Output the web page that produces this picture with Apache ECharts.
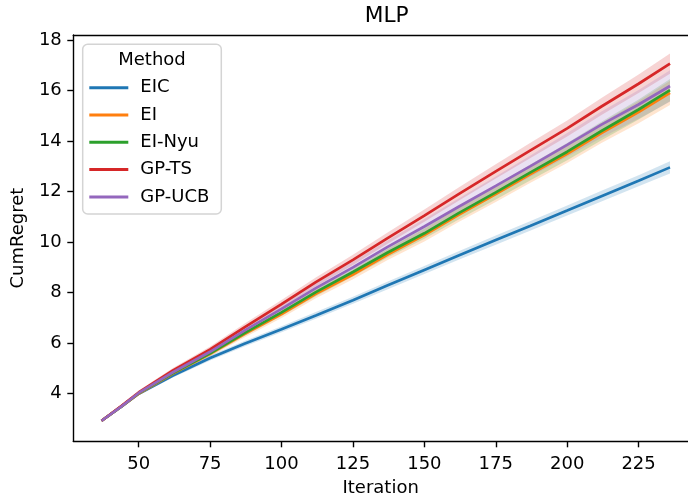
<!DOCTYPE html>
<html>
<head>
<meta charset="utf-8">
<script src="https://cdn.jsdelivr.net/npm/echarts@6/dist/echarts.min.js"></script>
<style>html,body{margin:0;padding:0;background:#fff}#c{width:688px;height:496px}</style>
</head>
<body>
<div id="c"></div>
<script>
var iterations = [37, 44, 50, 62, 75, 87, 100, 112, 125, 137, 150, 162, 175, 187, 200, 212, 225, 236];
var methods = ['EIC', 'EI', 'EI-Nyu', 'GP-TS', 'GP-UCB'];
var colors = ['#1f77b4', '#ff7f0e', '#2ca02c', '#d62728', '#9467bd'];
var meanEIC   = [2.93, 3.5, 4.0, 4.72, 5.41, 5.98, 6.55, 7.1, 7.7, 8.28, 8.9, 9.47, 10.08, 10.64, 11.25, 11.82, 12.43, 12.96];
var meanEI    = [2.93, 3.5, 4.0, 4.8, 5.58, 6.36, 7.15, 7.95, 8.72, 9.5, 10.28, 11.08, 11.9, 12.68, 13.5, 14.32, 15.15, 15.91];
var meanEINyu = [2.93, 3.5, 4.02, 4.82, 5.6, 6.4, 7.22, 8.02, 8.82, 9.58, 10.35, 11.15, 11.97, 12.75, 13.58, 14.4, 15.25, 16.02];
var meanGPTS  = [2.93, 3.52, 4.05, 4.92, 5.75, 6.63, 7.55, 8.42, 9.3, 10.15, 11.05, 11.9, 12.8, 13.62, 14.5, 15.37, 16.27, 17.07];
var meanGPUCB = [2.93, 3.5, 4.03, 4.85, 5.66, 6.5, 7.36, 8.18, 9.0, 9.8, 10.62, 11.4, 12.23, 13.0, 13.85, 14.65, 15.45, 16.18];
var halfEIC   = [0.04, 0.05, 0.06, 0.08, 0.1, 0.11, 0.12, 0.13, 0.14, 0.15, 0.16, 0.17, 0.18, 0.19, 0.2, 0.21, 0.22, 0.24];
var halfEI    = [0.04, 0.05, 0.07, 0.09, 0.11, 0.13, 0.15, 0.17, 0.19, 0.22, 0.25, 0.28, 0.31, 0.34, 0.37, 0.4, 0.44, 0.48];
var halfEINyu = [0.04, 0.05, 0.07, 0.08, 0.1, 0.12, 0.14, 0.16, 0.18, 0.2, 0.22, 0.25, 0.28, 0.31, 0.34, 0.37, 0.4, 0.44];
var halfGPTS  = [0.05, 0.07, 0.08, 0.1, 0.12, 0.14, 0.16, 0.18, 0.2, 0.22, 0.24, 0.26, 0.28, 0.3, 0.32, 0.34, 0.37, 0.4];
var halfGPUCB = [0.05, 0.06, 0.08, 0.1, 0.12, 0.15, 0.18, 0.2, 0.23, 0.26, 0.3, 0.33, 0.37, 0.42, 0.47, 0.52, 0.57, 0.62];
var xTicks = [50, 75, 100, 125, 150, 175, 200, 225];
var yTicks = [4, 6, 8, 10, 12, 14, 16, 18];

var means = [meanEIC, meanEI, meanEINyu, meanGPTS, meanGPUCB];
var halves = [halfEIC, halfEI, halfEINyu, halfGPTS, halfGPUCB];
var FONT = 'DejaVu Sans';

function bandSeries(k) {
  var mean = means[k], hw = halves[k];
  var data = iterations.map(function (x, i) { return [x, mean[i] - hw[i], mean[i] + hw[i]]; });
  return {
    type: 'custom', silent: true, clip: true,
    encode: { x: 0, y: [1, 2] },
    data: data,
    renderItem: function (params, api) {
      if (params.dataIndex !== 0) return null;
      var pts = [];
      for (var i = 0; i < data.length; i++) pts.push(api.coord([data[i][0], data[i][2]]));
      for (var j = data.length - 1; j >= 0; j--) pts.push(api.coord([data[j][0], data[j][1]]));
      return { type: 'polygon', shape: { points: pts }, style: { fill: colors[k], opacity: 0.2 } };
    }
  };
}

var series = [];
methods.forEach(function (m, k) {
  series.push(bandSeries(k));
  series.push({
    name: m, type: 'line', symbol: 'none',
    lineStyle: { color: colors[k], width: 2.7 },
    itemStyle: { color: colors[k] },
    data: iterations.map(function (x, i) { return [x, means[k][i]]; })
  });
});

var chart = echarts.init(document.getElementById('c'), null, { renderer: 'canvas' });
chart.setOption({
  animation: false,
  backgroundColor: '#fff',
  grid: { left: 73.3, top: 35, right: 0, bottom: 54.7, show: false, outerBoundsMode: 'none', containLabel: false },
  xAxis: [{
    type: 'value', min: 27.1, max: 242.3,
    splitLine: { show: false },
    axisLine: { lineStyle: { color: '#000', width: 1.4 } },
    axisTick: { show: true, length: 6, inside: false, customValues: xTicks, lineStyle: { color: '#000', width: 1.4 } },
    axisLabel: { customValues: xTicks, fontSize: 18, fontFamily: FONT, color: '#000', margin: 14 },
    name: 'Iteration', nameLocation: 'middle', nameGap: 38,
    nameTextStyle: { fontSize: 18, fontFamily: FONT, color: '#000' }
  }, {
    type: 'value', position: 'top', min: 27.1, max: 242.3,
    splitLine: { show: false },
    axisLine: { show: true, onZero: false, lineStyle: { color: '#000', width: 1.4 } },
    axisTick: { show: false }, axisLabel: { show: false }
  }],
  yAxis: {
    type: 'value', min: 2.116, max: 18.2,
    splitLine: { show: false },
    axisLine: { lineStyle: { color: '#000', width: 1.4 } },
    axisTick: { show: true, length: 6, inside: false, customValues: yTicks, lineStyle: { color: '#000', width: 1.4 } },
    axisLabel: { customValues: yTicks, fontSize: 18, fontFamily: FONT, color: '#000', margin: 11.5 },
    name: 'CumRegret', nameLocation: 'middle', nameGap: 46, nameRotate: 90,
    nameTextStyle: { fontSize: 18, fontFamily: FONT, color: '#000' }
  },
  legend: {
    data: methods, orient: 'vertical', left: 82.7, top: 44.3,
    padding: [34.4, 12, 8, 6.6],
    backgroundColor: 'rgba(255,255,255,0.8)', borderColor: '#d4d4d4', borderWidth: 1.5, borderRadius: 5,
    icon: 'rect', itemWidth: 39, itemHeight: 3, itemGap: 9.3,
    textStyle: { fontSize: 18, fontFamily: FONT, color: '#000', padding: [0, 0, 0, 7] },
    selectedMode: false
  },
  graphic: [
    { type: 'text', x: 386.7, y: 16, z: 100,
      style: { text: 'MLP', font: '21.7px "DejaVu Sans"', fill: '#000', textAlign: 'center', textVerticalAlign: 'middle' } },
    { type: 'text', x: 152, y: 60.2, z: 100,
      style: { text: 'Method', font: '18px "DejaVu Sans"', fill: '#000', textAlign: 'center', textVerticalAlign: 'middle' } }
  ],
  series: series
});
</script>
</body>
</html>
